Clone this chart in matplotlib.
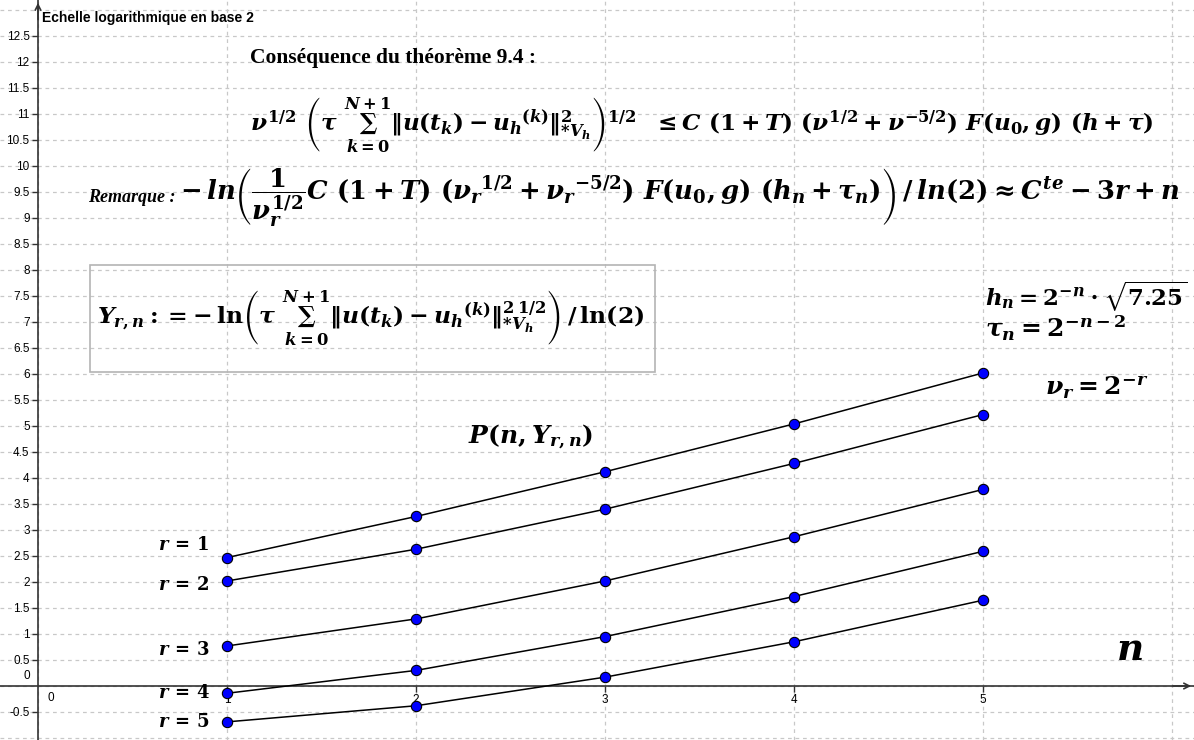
import matplotlib
matplotlib.use("Agg")
import matplotlib.pyplot as plt
from matplotlib.patches import Rectangle
import numpy as np

## data ##
n_vals = [1, 2, 3, 4, 5]
Y_r1 = [2.47, 3.26, 4.12, 5.04, 6.02]
Y_r2 = [2.02, 2.63, 3.40, 4.28, 5.22]
Y_r3 = [0.77, 1.29, 2.02, 2.87, 3.78]
Y_r4 = [-0.14, 0.30, 0.95, 1.72, 2.59]
Y_r5 = [-0.69, -0.38, 0.17, 0.85, 1.65]
series = [Y_r1, Y_r2, Y_r3, Y_r4, Y_r5]
r_labels = [r'$r\,=\,1$', r'$r\,=\,2$', r'$r\,=\,3$', r'$r\,=\,4$', r'$r\,=\,5$']

x_ticks = [1, 2, 3, 4, 5]
y_ticks = [v for v in np.arange(-0.5, 12.51, 0.5) if v != 0]

plt.rcParams['mathtext.fontset'] = 'custom'
plt.rcParams['mathtext.rm'] = 'DejaVu Serif:bold'
plt.rcParams['mathtext.it'] = 'DejaVu Serif:bold:italic'
plt.rcParams['mathtext.bf'] = 'DejaVu Serif:bold'
plt.rcParams['mathtext.cal'] = 'DejaVu Serif:bold:italic'
plt.rcParams['mathtext.fallback'] = 'stix'

W, H = 1194, 740
fig = plt.figure(figsize=(W / 100, H / 100), dpi=100)
ax = fig.add_axes([0, 0, 1, 1])

# px -> data : x0=38px, 189 px/unit ; y0=686px, 52 px/unit
ax.set_xlim((0 - 38) / 189, (W - 38) / 189)
ax.set_ylim((686 - H) / 52, 686 / 52)

# grid
for gx in range(0, 7):
    ax.axvline(gx, color='#c8c8c8', ls=(0, (3, 3)), lw=0.9, zorder=0)
for gy in np.arange(-1.0, 13.01, 0.5):
    ax.axhline(gy, color='#c8c8c8', ls=(0, (3, 3)), lw=0.9, zorder=0)

# axes like geogebra
for s in ['top', 'right']:
    ax.spines[s].set_visible(False)
ax.spines['left'].set_position(('data', 0))
ax.spines['bottom'].set_position(('data', 0))
ax.spines['left'].set_color('#333333')
ax.spines['bottom'].set_color('#333333')
ax.spines['left'].set_linewidth(1.2)
ax.spines['bottom'].set_linewidth(1.2)
ax.set_xticks(x_ticks)
ax.set_yticks(y_ticks)
ax.set_yticklabels([('%g' % v) for v in y_ticks])
ax.tick_params(axis='both', direction='out', length=4, width=1, colors='#333333',
               labelcolor='black', labelsize=8.5, pad=2)
for lab in ax.get_xticklabels() + ax.get_yticklabels():
    lab.set_fontfamily('Liberation Sans')
ax.text(-0.04, 0.08, '0', ha='right', va='bottom', fontsize=8.5, family='Liberation Sans')
ax.text(0.05, -0.12, '0', ha='left', va='top', fontsize=8.5, family='Liberation Sans')
ax.annotate('', xy=(1.0, 0), xycoords=('axes fraction', 'data'), xytext=(0.98, 0),
            arrowprops=dict(arrowstyle='->', color='#333333', lw=1.2))
ax.annotate('', xy=(0, 1.0), xycoords=('data', 'axes fraction'), xytext=(0, 0.97),
            arrowprops=dict(arrowstyle='->', color='#333333', lw=1.2))

# curves
for Y in series:
    ax.plot(n_vals, Y, color='black', lw=1.1, zorder=3)
    ax.scatter(n_vals, Y, s=55, color='#0000ff', edgecolor='black', linewidth=0.8, zorder=4)

# labels r = ...
r_y = [545, 585, 650, 693, 722]
for lab, py in zip(r_labels, r_y):
    fig.text(158 / W, 1 - py / H, lab, ha='left', va='center', fontsize=13)

fig.text(42 / W, 1 - 18 / H, 'Echelle logarithmique en base 2', ha='left', va='center',
         fontsize=10, fontweight='bold', family='Liberation Sans')

fig.text(250 / W, 1 - 58 / H, 'Conséquence du théorème 9.4 :', ha='left', va='center',
         fontsize=15.5, fontweight='bold', family='Liberation Serif')

f1 = (r'$\nu^{1/2}\ \left(\tau\ \sum_{k=0}^{N+1}\Vert u(t_k)-{u_h}^{(k)}\Vert^2_{*V_h}\right)^{1/2}'
      r'\ \ \leq \mathcal{C}\ (1+T)\ (\nu^{1/2}+\nu^{-5/2})\ \mathcal{F}(u_0,g)\ (h+\tau)$')
fig.text(250 / W, 1 - 125 / H, f1, ha='left', va='center', fontsize=16.7)

f2 = (r'$-\,ln\left(\dfrac{1}{\nu_r^{1/2}}\mathcal{C}\ (1+T)\ ({\nu_r}^{1/2}+{\nu_r}^{-5/2})\ '
      r'\mathcal{F}(u_0,g)\ (h_n+\tau_n)\right)\,/\,ln(2)\approx C^{te}-3r+n$')
fig.text(88 / W, 1 - 197 / H, 'Remarque :', ha='left', va='center', fontsize=13,
         fontweight='bold', fontstyle='italic', family='Liberation Serif')
fig.text(180 / W, 1 - 197 / H, f2, ha='left', va='center', fontsize=18.6)

fig.patches.append(Rectangle((90 / W, 1 - 372 / H), 565 / W, 107 / H, transform=fig.transFigure,
                             fill=False, edgecolor='#b4b4b4', lw=1.2))
f3 = (r'$Y_{r,n} := -\,\mathrm{ln}\left(\tau\ \sum_{k=0}^{N+1}\Vert u(t_k)-{u_h}^{(k)}\Vert^{2\,1/2}_{*V_h}'
      r'\right)\,/\,\mathrm{ln}(2)$')
fig.text(97 / W, 1 - 318 / H, f3, ha='left', va='center', fontsize=16.9)

fig.text(985 / W, 1 - 297 / H, r'$h_n = 2^{-n}\cdot\sqrt{7.25}$', ha='left', va='center', fontsize=16.5)
fig.text(985 / W, 1 - 328 / H, r'$\tau_n = 2^{-n-2}$', ha='left', va='center', fontsize=18)
fig.text(1045 / W, 1 - 388 / H, r'$\nu_r = 2^{-r}$', ha='left', va='center', fontsize=18)
fig.text(468 / W, 1 - 437 / H, r'$P(n, Y_{r,n})$', ha='left', va='center', fontsize=18)
fig.text(1116 / W, 1 - 650 / H, r'$n$', ha='left', va='center', fontsize=27)

fig.savefig('out.png', dpi=100)
